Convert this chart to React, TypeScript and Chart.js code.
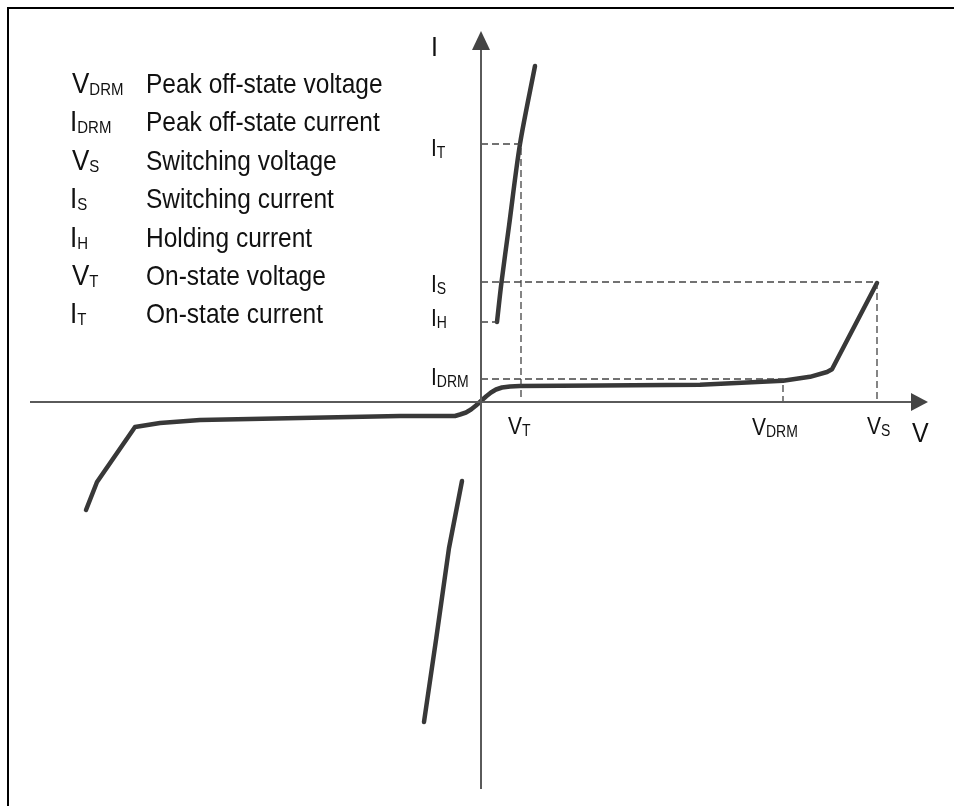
import React, { useEffect, useRef } from "react";
import { Chart, registerables } from "chart.js";

Chart.register(...registerables);

// ---- data (arbitrary schematic units: V horizontally, I vertically) ----
const OFF_STATE_V = [-98.75, -96, -86.5, -80.25, -70.25, -45.25, -20.25, -6.5, -5.25, -3.75, -2.5, -1.25, 0, 1.25, 2.5, 3.75, 5.25, 7.25, 9.75, 29.75, 54.75, 75.5, 82.25, 86.5, 87.75, 99];
const OFF_STATE_I = [-27, -20, -6.25, -5.25, -4.5, -4, -3.5, -3.5, -3.125, -2.625, -1.875, -0.875, 0.25, 1.375, 2.375, 3.125, 3.625, 3.875, 4, 4.1, 4.3, 5.3, 6.3, 7.5, 8.2, 29.75];

const ON_FWD_V = [4, 5.1, 7.0, 9.75, 13.5];
const ON_FWD_I = [20, 29.75, 44, 64.5, 84];

const ON_REV_V = [-4.75, -8, -11.25, -14.25];
const ON_REV_I = [-19.75, -36.5, -59.5, -80];

const V_T = 10, I_T = 64.5;
const V_S = 99, I_S = 30;
const V_DRM = 75.5, I_DRM = 5.75;
const V_H = 4, I_H = 20;

const X_AXIS_RANGE = [-112.75, 107.75];
const Y_AXIS_RANGE = [-96.75, 88.25];

const GLOSSARY_SYMBOLS = ["V", "I", "V", "I", "I", "V", "I"];
const GLOSSARY_SUBS = ["DRM", "DRM", "S", "S", "H", "T", "T"];
const GLOSSARY_TEXT = [
  "Peak off-state voltage",
  "Peak off-state current",
  "Switching voltage",
  "Switching current",
  "Holding current",
  "On-state voltage",
  "On-state current",
];

const FONT = "'Liberation Sans', Arial, sans-serif";
const SY = 1.12;

function pts(xs: number[], ys: number[]) {
  return xs.map((x, i) => ({ x, y: ys[i] }));
}

function drawText(ctx: CanvasRenderingContext2D, x: number, y: number, main: string, sub: string, size: number, subSize: number, subDrop = 2) {
  ctx.save();
  ctx.translate(x, y);
  ctx.scale(1, SY);
  ctx.fillStyle = "#111";
  ctx.textBaseline = "alphabetic";
  ctx.textAlign = "left";
  ctx.font = `${size}px ${FONT}`;
  ctx.fillText(main, 0, 0);
  const w = ctx.measureText(main).width;
  if (sub) {
    ctx.font = `${subSize}px ${FONT}`;
    ctx.fillText(sub, w, subDrop / SY);
  }
  ctx.restore();
}

const overlay = {
  id: "overlay",
  afterDatasetsDraw(chart: any) {
    const ctx: CanvasRenderingContext2D = chart.ctx;
    const xs = chart.scales.x;
    const ys = chart.scales.y;
    const px = (v: number) => xs.getPixelForValue(v);
    const py = (v: number) => ys.getPixelForValue(v);
    const ox = px(0), oy = py(0);

    // arrow heads
    ctx.save();
    ctx.fillStyle = "#444";
    const xb = px(X_AXIS_RANGE[1]);
    ctx.beginPath();
    ctx.moveTo(xb - 1, oy - 9);
    ctx.lineTo(xb + 16, oy);
    ctx.lineTo(xb - 1, oy + 9);
    ctx.closePath();
    ctx.fill();
    const yb = py(Y_AXIS_RANGE[1]);
    ctx.beginPath();
    ctx.moveTo(ox - 9, yb + 1);
    ctx.lineTo(ox, yb - 18);
    ctx.lineTo(ox + 9, yb + 1);
    ctx.closePath();
    ctx.fill();
    ctx.restore();

    // axis labels
    drawText(ctx, ox - 50, yb + 7, "I", "", 25, 14);
    drawText(ctx, xb + 0, oy + 40, "V", "", 25, 14);

    // y-side tick labels
    const lx = ox - 50;
    drawText(ctx, lx, py(I_T) + 12, "I", "T", 21, 14, 2);
    drawText(ctx, lx, py(I_S) + 10, "I", "S", 21, 14, 2);
    drawText(ctx, lx, py(I_H) + 4, "I", "H", 21, 14, 2);
    drawText(ctx, lx, py(I_DRM) + 6, "I", "DRM", 21, 14, 2);

    // x-side tick labels
    drawText(ctx, px(V_T) - 13, oy + 32, "V", "T", 21, 14, 2);
    drawText(ctx, px(V_DRM) - 31, oy + 33, "V", "DRM", 21, 14, 2);
    drawText(ctx, px(V_S) - 10, oy + 32, "V", "S", 21, 14, 2);

    // glossary
    for (let i = 0; i < GLOSSARY_TEXT.length; i++) {
      const by = 93 + i * 38.4;
      const sx = GLOSSARY_SYMBOLS[i] === "I" ? 70 : 72;
      drawText(ctx, sx, by, GLOSSARY_SYMBOLS[i], GLOSSARY_SUBS[i], 26, 15, 2);
      drawText(ctx, 146, by, GLOSSARY_TEXT[i], "", 24.5, 15);
    }
  },
};

export default function App() {
  const ref = useRef<HTMLCanvasElement | null>(null);

  useEffect(() => {
    if (!ref.current) return;
    const curve = {
      showLine: true,
      borderColor: "#383838",
      borderWidth: 4.5,
      pointRadius: 0,
      borderCapStyle: "round",
      borderJoinStyle: "round",
      tension: 0,
    };
    const dashed = {
      showLine: true,
      borderColor: "#444",
      borderWidth: 1.3,
      borderDash: [7, 4],
      pointRadius: 0,
      tension: 0,
    };
    const axis = {
      showLine: true,
      borderColor: "#5a5a5a",
      borderWidth: 2,
      pointRadius: 0,
      tension: 0,
    };
    const chart = new Chart(ref.current, {
      type: "scatter",
      data: {
        datasets: [
          { ...axis, label: "V axis", data: [{ x: X_AXIS_RANGE[0], y: 0 }, { x: X_AXIS_RANGE[1], y: 0 }] },
          { ...axis, label: "I axis", data: [{ x: 0, y: Y_AXIS_RANGE[0] }, { x: 0, y: Y_AXIS_RANGE[1] }] },
          { ...dashed, label: "IT", data: [{ x: 0, y: I_T }, { x: V_T, y: I_T }, { x: V_T, y: 0 }] },
          { ...dashed, label: "IS", data: [{ x: 0, y: I_S }, { x: V_S, y: I_S }, { x: V_S, y: 0 }] },
          { ...dashed, label: "IDRM", data: [{ x: 0, y: I_DRM }, { x: V_DRM, y: I_DRM }, { x: V_DRM, y: 0 }] },
          { ...dashed, label: "IH", data: [{ x: 0, y: I_H }, { x: V_H, y: I_H }] },
          { ...curve, label: "off-state", data: pts(OFF_STATE_V, OFF_STATE_I) },
          { ...curve, label: "on-state fwd", data: pts(ON_FWD_V, ON_FWD_I), tension: 0.3 },
          { ...curve, label: "on-state rev", data: pts(ON_REV_V, ON_REV_I) },
        ] as any,
      },
      options: {
        animation: false,
        responsive: false,
        devicePixelRatio: 1,
        layout: { padding: 0 },
        plugins: { legend: { display: false }, tooltip: { enabled: false } },
        events: [],
        scales: {
          x: { type: "linear", display: false, min: -481 / 4, max: (954 - 481) / 4 },
          y: { type: "linear", display: false, min: -(806 - 402) / 4, max: 402 / 4 },
        },
      } as any,
      plugins: [overlay],
    });
    return () => chart.destroy();
  }, []);

  return (
    <div style={{ position: "fixed", left: 0, top: 0, width: 954, height: 806, overflow: "hidden", background: "#fff" }}>
      <canvas ref={ref} width={954} height={806} style={{ position: "absolute", left: 0, top: 0, width: 954, height: 806 }} />
      <div
        style={{
          position: "absolute",
          left: 7,
          top: 7,
          width: 1000,
          height: 1000,
          borderTop: "2px solid #000",
          borderLeft: "2px solid #000",
          pointerEvents: "none",
        }}
      />
    </div>
  );
}
